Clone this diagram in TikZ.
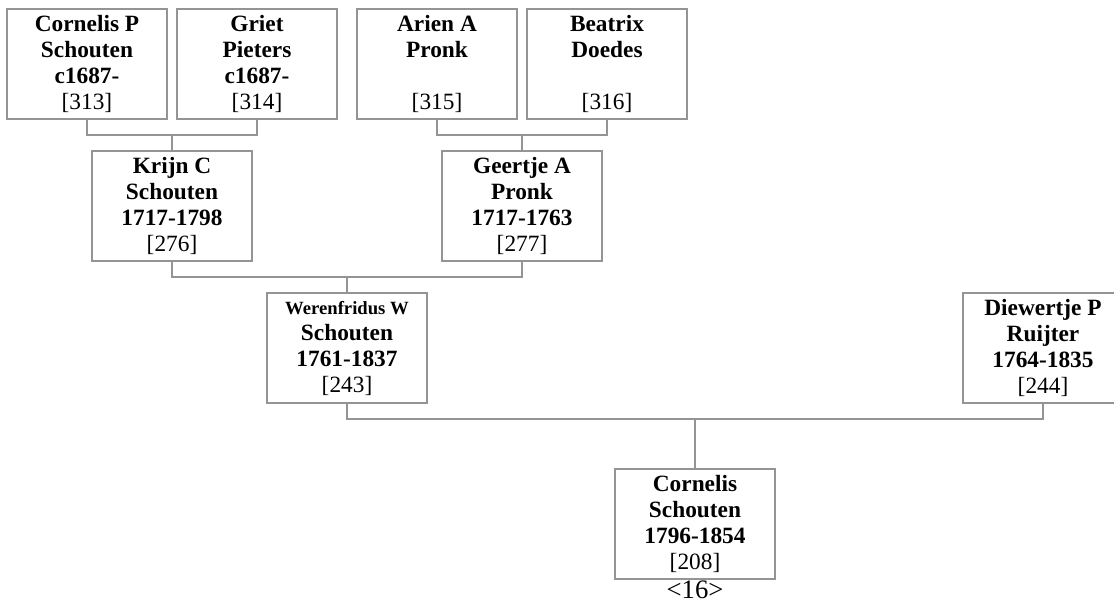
\documentclass[tikz,border=0pt]{standalone}
\usepackage{fontspec}
\setmainfont{Liberation Serif}
\usetikzlibrary{positioning,calc}
\colorlet{linegray}{black!42}

\begin{document}
\begin{tikzpicture}[person/.style={rectangle, draw=linegray, line width=0.9pt, minimum width=120pt, minimum height=82.5pt, inner sep=0pt, outer sep=0pt, align=center, font=\fontsize{17.5}{19.5}\selectfont\bfseries}, link/.style={draw=linegray, line width=0.9pt}]

% GRANDPARENTS' PARENTS

\node [person] (p313) {Cornelis P\\Schouten\\c1687-\\{\mdseries [313]}};

\node [person, right=7.5pt of p313] (p314) {Griet\\Pieters\\c1687-\\{\mdseries [314]}};

\node [person, right=15pt of p314] (p315) {Arien A\\Pronk\\\mbox{}\\{\mdseries [315]}};

\node [person, right=7.5pt of p315] (p316) {Beatrix\\Doedes\\\mbox{}\\{\mdseries [316]}};

% GRANDPARENTS

\coordinate (c1) at ($(p313.south)!0.5!(p314.south)$);
\coordinate (c2) at ($(p315.south)!0.5!(p316.south)$);

\node [person, below=24pt of c1] (p276) {Krijn C\\Schouten\\1717-1798\\{\mdseries [276]}};

\node [person, below=24pt of c2] (p277) {Geertje A\\Pronk\\1717-1763\\{\mdseries [277]}};

% PARENTS

\coordinate (c3) at ($(p276.south)!0.5!(p277.south)$);

\node [person, below=24pt of c3] (p243) {{\fontsize{14}{17}\selectfont Werenfridus W}\\Schouten\\1761-1837\\{\mdseries [243]}};

\node [person, right=402pt of p243] (p244) {Diewertje P\\Ruijter\\1764-1835\\{\mdseries [244]}};

% CHILD

\coordinate (c4) at ($(p243.south)!0.5!(p244.south)$);

\node [person, below=49.5pt of c4] (p208) {Cornelis\\Schouten\\1796-1854\\{\mdseries [208]}};

\node [below=1.5pt of p208, inner sep=0pt, font=\fontsize{20}{22}\selectfont] (gen) {\textless16\textgreater};

% LINES

\draw[link] (p313.south) -- ++(0,-12pt) -| (p276.north);
\draw[link] (p314.south) -- ++(0,-12pt) -| (p276.north);

\draw[link] (p315.south) -- ++(0,-12pt) -| (p277.north);
\draw[link] (p316.south) -- ++(0,-12pt) -| (p277.north);

\draw[link] (p276.south) -- ++(0,-12pt) -| (p243.north);
\draw[link] (p277.south) -- ++(0,-12pt) -| (p243.north);

\draw[link] (p243.south) -- ++(0,-12pt) -| (p208.north);
\draw[link] (p244.south) -- ++(0,-12pt) -| (p208.north);

\pgfresetboundingbox
\useasboundingbox ($(p313.north west)+(-5.25pt,6.75pt)$) rectangle ++(835.5pt,-453pt);

\end{tikzpicture}
\end{document}
